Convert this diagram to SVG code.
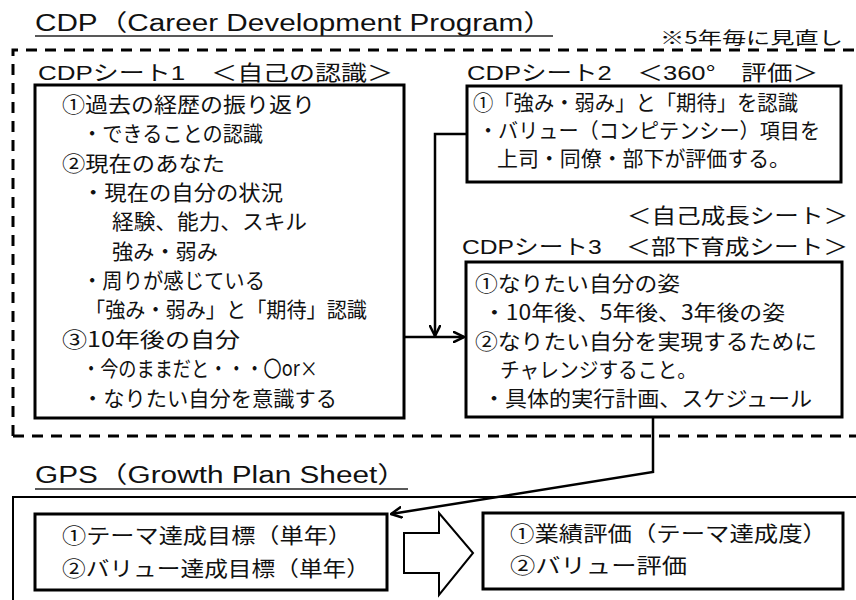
<svg xmlns="http://www.w3.org/2000/svg" width="856" height="600" viewBox="0 0 856 600">
<style>
text{font-family:"Noto Sans CJK JP","Liberation Sans",sans-serif;fill:#111;}
.ttl{font-family:"Liberation Sans","Noto Sans CJK JP",sans-serif;font-size:23px;}
.hd{font-family:"Liberation Sans","Noto Sans CJK JP",sans-serif;font-size:21px;}
.bd{font-size:21px;}
.note{font-size:17px;}
.box{fill:#fff;stroke:#000;stroke-width:3;}
.ul{stroke:#222;stroke-width:1.5;}
.con{fill:none;stroke:#000;stroke-width:2.5;}
</style>
<defs>
<marker id="ah" viewBox="0 0 10 10" refX="9" refY="5" markerWidth="5" markerHeight="5" orient="auto" markerUnits="strokeWidth">
<path d="M0,0.5 L9,5 L0,9.5" fill="none" stroke="#000" stroke-width="2"/>
</marker>
</defs>
<rect width="856" height="600" fill="#fff"/>

<g id="cdp-title">
<text class="ttl" x="35" y="31" textLength="518" lengthAdjust="spacingAndGlyphs">CDP（Career Development Program）</text>
<line class="ul" x1="35" y1="36" x2="553" y2="36"/>
<text class="note" x="660" y="44" textLength="183" lengthAdjust="spacingAndGlyphs">※5年毎に見直し</text>
</g>

<g id="cdp-frame">
<path d="M13 436 V50 H856 M13 436 H856" fill="none" stroke="#000" stroke-width="3" stroke-dasharray="11 8"/>
</g>

<g id="sheet1">
<text class="hd" x="38" y="80" textLength="355" lengthAdjust="spacingAndGlyphs">CDPシート1　＜自己の認識＞</text>
<rect class="box" x="35" y="85" width="369" height="333"/>
<text class="bd" x="62" y="112" textLength="253" lengthAdjust="spacingAndGlyphs">①過去の経歴の振り返り</text>
<text class="bd" x="82" y="141" textLength="181" lengthAdjust="spacingAndGlyphs">・できることの認識</text>
<text class="bd" x="62" y="171" textLength="163" lengthAdjust="spacingAndGlyphs">②現在のあなた</text>
<text class="bd" x="82" y="200" textLength="201" lengthAdjust="spacingAndGlyphs">・現在の自分の状況</text>
<text class="bd" x="112" y="229" textLength="195" lengthAdjust="spacingAndGlyphs">経験、能力、スキル</text>
<text class="bd" x="112" y="259" textLength="106" lengthAdjust="spacingAndGlyphs">強み・弱み</text>
<text class="bd" x="82" y="288" textLength="183" lengthAdjust="spacingAndGlyphs">・周りが感じている</text>
<text class="bd" x="85" y="317" textLength="282" lengthAdjust="spacingAndGlyphs">「強み・弱み」と「期待」認識</text>
<text class="bd" x="62" y="347" textLength="178" lengthAdjust="spacingAndGlyphs">③10年後の自分</text>
<text class="bd" x="82" y="376" textLength="236" lengthAdjust="spacingAndGlyphs">・今のままだと・・・〇or×</text>
<text class="bd" x="82" y="406" textLength="255" lengthAdjust="spacingAndGlyphs">・なりたい自分を意識する</text>
</g>

<g id="sheet2">
<text class="hd" x="467" y="80" textLength="351" lengthAdjust="spacingAndGlyphs">CDPシート2　＜360°　評価＞</text>
<rect class="box" x="467" y="86" width="374" height="96"/>
<text class="bd" x="473" y="110" textLength="325" lengthAdjust="spacingAndGlyphs">①「強み・弱み」と「期待」を認識</text>
<text class="bd" x="478" y="138" textLength="342" lengthAdjust="spacingAndGlyphs">・バリュー（コンピテンシー）項目を</text>
<text class="bd" x="497" y="166" textLength="293" lengthAdjust="spacingAndGlyphs">上司・同僚・部下が評価する。</text>
</g>

<g id="sheet3">
<text class="hd" x="627" y="223" textLength="221" lengthAdjust="spacingAndGlyphs">＜自己成長シート＞</text>
<text class="hd" x="462" y="254" textLength="386" lengthAdjust="spacingAndGlyphs">CDPシート3　＜部下育成シート＞</text>
<rect class="box" x="466" y="262" width="376" height="155"/>
<text class="bd" x="475" y="291" textLength="205" lengthAdjust="spacingAndGlyphs">①なりたい自分の姿</text>
<text class="bd" x="483" y="320" textLength="302" lengthAdjust="spacingAndGlyphs">・10年後、5年後、3年後の姿</text>
<text class="bd" x="475" y="349" textLength="342" lengthAdjust="spacingAndGlyphs">②なりたい自分を実現するために</text>
<text class="bd" x="500" y="377" textLength="197" lengthAdjust="spacingAndGlyphs">チャレンジすること。</text>
<text class="bd" x="483" y="406" textLength="329" lengthAdjust="spacingAndGlyphs">・具体的実行計画、スケジュール</text>
</g>

<g id="gps-title">
<text class="ttl" x="35" y="483" textLength="372" lengthAdjust="spacingAndGlyphs">GPS（Growth Plan Sheet）</text>
<line class="ul" x1="35" y1="489" x2="408" y2="489"/>
</g>

<g id="gps-frame">
<path d="M13 600 V497 H856" fill="none" stroke="#000" stroke-width="2"/>
</g>

<g id="gps-targets">
<rect class="box" x="35" y="514" width="352" height="76"/>
<text class="bd" x="62" y="543" textLength="290" lengthAdjust="spacingAndGlyphs">①テーマ達成目標（単年）</text>
<text class="bd" x="62" y="576" textLength="308" lengthAdjust="spacingAndGlyphs">②バリュー達成目標（単年）</text>
</g>

<g id="gps-block-arrow">
<polygon points="404,533 439,533 439,513 473,553 439,595 439,573 404,573" fill="#fff" stroke="#000" stroke-width="2"/>
</g>

<g id="gps-eval">
<rect class="box" x="483" y="513" width="360" height="76"/>
<text class="bd" x="510" y="541" textLength="317" lengthAdjust="spacingAndGlyphs">①業績評価（テーマ達成度）</text>
<text class="bd" x="510" y="573" textLength="177" lengthAdjust="spacingAndGlyphs">②バリュー評価</text>
</g>

<g id="connectors">
<path class="con" d="M467 134 H435 V336" marker-end="url(#ah)"/>
<path class="con" d="M404 337 H464" marker-end="url(#ah)"/>
<path class="con" d="M653 418 V472 L391 514" marker-end="url(#ah)"/>
</g>
</svg>
